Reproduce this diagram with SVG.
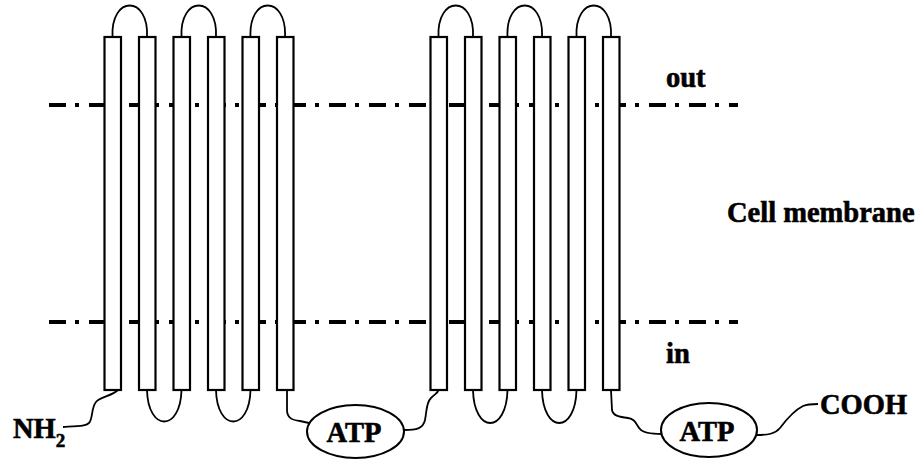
<svg xmlns="http://www.w3.org/2000/svg" width="921" height="461" viewBox="0 0 921 461">
<style>
.helix{fill:#fff;stroke:#000;stroke-width:2.2}
.loop{fill:none;stroke:#000;stroke-width:1.8}
.mem{fill:none;stroke:#000;stroke-width:4;stroke-dasharray:17 9 4 10}
.t{font-family:"Liberation Serif","Times New Roman",serif;font-weight:bold;font-size:28.5px;fill:#000;stroke:#000;stroke-width:0.6}
.atp{fill:#fff;stroke:#000;stroke-width:2}
</style>
<rect width="921" height="461" fill="#fff"/>
<g id="membrane">
<line class="mem" x1="49" y1="105" x2="738" y2="105"/>
<line class="mem" x1="49" y1="322" x2="738" y2="322"/>
</g>
<g id="connectors">
<path class="loop" d="M112.5,37 C110.5,-5 149,-5 147,37"/>
<path class="loop" d="M181.5,37 C179.5,-5 218,-5 216,37"/>
<path class="loop" d="M250.5,37 C248.5,-5 287,-5 285,37"/>
<path class="loop" d="M147,390 C148,432 180.5,432 181.5,390"/>
<path class="loop" d="M216,390 C217,432 249.5,432 250.5,390"/>
<path class="loop" d="M438.5,37 C436.5,-5 475,-5 473,37"/>
<path class="loop" d="M507.5,37 C505.5,-5 544,-5 542,37"/>
<path class="loop" d="M576.5,37 C574.5,-5 613,-5 611,37"/>
<path class="loop" d="M473,390 C474,434 506.5,434 507.5,390"/>
<path class="loop" d="M542,390 C543,434 575.5,434 576.5,390"/>
<path class="loop" d="M118,390 C112,396 100,397 96,402 C91,408 93,419 89,423 C86,426 80,426 63,427"/>
<path class="loop" d="M287,390 L287,410 C287,418 292,420 300,421 L309,423"/>
<path class="loop" d="M404,430 C416,430 423,429 425,420 C427,410 426,403 431,398 C435,394 438,393 438.5,390"/>
<path class="loop" d="M611,390 L612,410 C613,416 620,417 628,418 C636,419 636,425 640,429 C643,433 650,434 662,434"/>
<path class="loop" d="M756,435 C768,435 775,434 780,428 C786,420 795,410 803,406 C808,404 812,404 818,404"/>
</g>
<g id="helices-domain1">
<rect class="helix" x="104.5" y="37" width="16.5" height="353"/>
<rect class="helix" x="139" y="37" width="16.5" height="353"/>
<rect class="helix" x="173.5" y="37" width="16.5" height="353"/>
<rect class="helix" x="208" y="37" width="16.5" height="353"/>
<rect class="helix" x="242.5" y="37" width="16.5" height="353"/>
<rect class="helix" x="277" y="37" width="16.5" height="353"/>
</g>
<g id="helices-domain2">
<rect class="helix" x="430.5" y="37" width="16.5" height="353"/>
<rect class="helix" x="465" y="37" width="16.5" height="353"/>
<rect class="helix" x="499.5" y="37" width="16.5" height="353"/>
<rect class="helix" x="534" y="37" width="16.5" height="353"/>
<rect class="helix" x="568.5" y="37" width="16.5" height="353"/>
<rect class="helix" x="603" y="37" width="16.5" height="353"/>
</g>
<g id="atp1">
<ellipse class="atp" cx="355.5" cy="431.5" rx="48.5" ry="26.5"/>
<text class="t" x="354" y="442" text-anchor="middle">ATP</text>
</g>
<g id="atp2">
<ellipse class="atp" cx="709" cy="430" rx="48" ry="27"/>
<text class="t" x="707" y="441" text-anchor="middle">ATP</text>
</g>
<g id="nh2">
<text class="t" x="13" y="438">NH<tspan font-size="19" dy="9">2</tspan></text>
</g>
<g id="cooh">
<text class="t" x="820" y="414">COOH</text>
</g>
<g id="labels">
<text class="t" x="666" y="87">out</text>
<text class="t" x="727" y="222">Cell membrane</text>
<text class="t" x="666" y="363">in</text>
</g>
</svg>
